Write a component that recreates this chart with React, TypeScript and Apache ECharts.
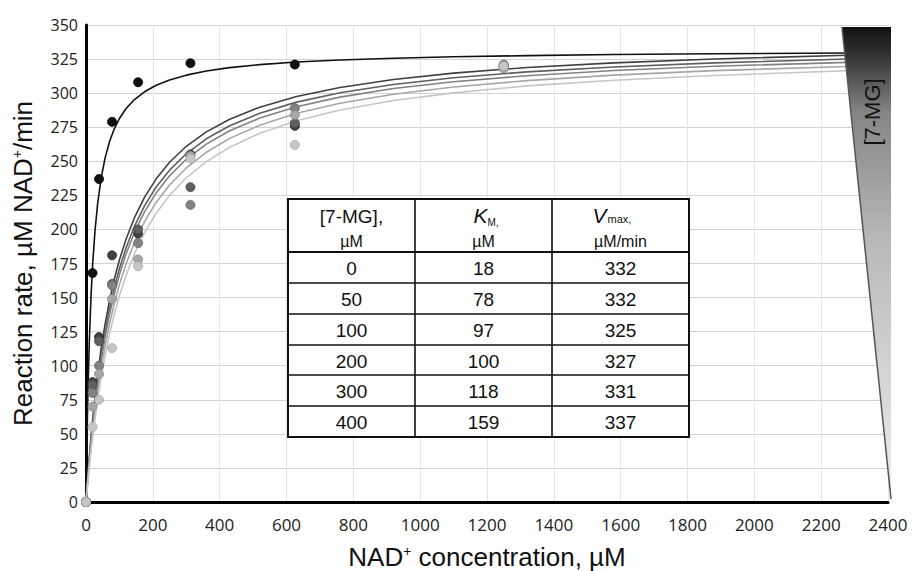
import React, { useEffect, useRef } from 'react';
import * as echarts from 'echarts';

// NAD+ concentrations of the measured points (µM)
const NAD_CONC = [0, 19.5, 39, 78, 156, 312.5, 625, 1250];
// measured reaction rates for each [7-MG]
const RATE_0 = [0, 168, 237, 279, 308, 322, 321, 320];
const RATE_50 = [0, 88, 121, 181, 197, 255, 276, 320];
const RATE_100 = [0, 86, 118, 160, 200, 231, 278, 319];
const RATE_200 = [0, 80, 100, 159, 190, 218, 289, 321];
const RATE_300 = [0, 70, 94, 149, 178, 254, 284, 318];
const RATE_400 = [0, 55, 75, 113, 173, 252, 262, 320];

// fitted curves
const CURVE_X = [0, 3, 6, 10, 15, 20, 27, 35, 45, 57, 70, 85, 100, 120, 145, 175, 210, 250, 300, 360, 430, 520, 630, 760, 920, 1100, 1320, 1580, 1880, 2280];
const CURVE_0 = [0, 47.4, 83.0, 118.6, 150.9, 174.7, 199.2, 219.2, 237.1, 252.3, 264.1, 274.0, 281.4, 288.7, 295.3, 301.0, 305.8, 309.7, 313.2, 316.2, 318.7, 320.9, 322.8, 324.3, 325.6, 326.7, 327.5, 328.3, 328.9, 329.4];
const CURVE_50 = [0, 10.8, 20.9, 33.4, 47.8, 60.9, 77.4, 94.0, 112.0, 130.4, 147.3, 163.8, 177.6, 193.0, 208.6, 223.5, 237.1, 249.3, 261.0, 271.6, 280.9, 289.7, 297.5, 304.2, 310.0, 314.7, 318.8, 322.2, 325.1, 327.8];
const CURVE_100 = [0, 10.1, 19.6, 31.4, 45.0, 57.5, 73.2, 89.2, 106.7, 124.7, 141.3, 157.5, 171.2, 186.6, 202.3, 217.3, 231.1, 243.5, 255.5, 266.5, 276.1, 285.2, 293.4, 300.3, 306.4, 311.3, 315.6, 319.2, 322.2, 325.0];
const CURVE_200 = [0, 9.6, 18.7, 30.1, 43.2, 55.2, 70.5, 86.1, 103.2, 120.8, 137.2, 153.2, 166.8, 182.2, 197.8, 212.9, 226.8, 239.3, 251.5, 262.6, 272.4, 281.7, 290.0, 297.1, 303.4, 308.4, 312.8, 316.6, 319.7, 322.6];
const CURVE_300 = [0, 8.9, 17.3, 27.9, 40.2, 51.5, 66.0, 80.9, 97.3, 114.3, 130.3, 146.0, 159.5, 174.8, 190.5, 205.7, 219.8, 232.6, 245.1, 256.6, 266.8, 276.5, 285.2, 292.6, 299.2, 304.5, 309.2, 313.2, 316.5, 319.6];
const CURVE_400 = [0, 8.1, 15.9, 25.6, 37.0, 47.6, 61.2, 75.2, 90.8, 107.2, 122.7, 138.1, 151.4, 166.5, 182.2, 197.5, 211.9, 225.0, 237.9, 249.8, 260.3, 270.6, 279.7, 287.6, 294.6, 300.2, 305.3, 309.5, 313.0, 316.4];

// inset table
const MG_CONC = ['0', '50', '100', '200', '300', '400'];
const KM = ['18', '78', '97', '100', '118', '159'];
const VMAX = ['332', '332', '325', '327', '331', '337'];

const X_TICKS = [0, 200, 400, 600, 800, 1000, 1200, 1400, 1600, 1800, 2000, 2200, 2400];

const LEVELS = [
  { rates: RATE_0, curve: CURVE_0, color: '#111111', border: '#000000' },
  { rates: RATE_50, curve: CURVE_50, color: '#404040', border: '#2a2a2a' },
  { rates: RATE_100, curve: CURVE_100, color: '#5f5f5f', border: '#484848' },
  { rates: RATE_200, curve: CURVE_200, color: '#828282', border: '#666666' },
  { rates: RATE_300, curve: CURVE_300, color: '#a6a6a6', border: '#8a8a8a' },
  { rates: RATE_400, curve: CURVE_400, color: '#c6c6c6', border: '#a8a8a8' },
];

const TITLE_FONT = 'Liberation Sans, Arial, sans-serif';
const TICK_FONT = 'Open Sans, sans-serif';

function buildTable(): any[] {
  const colX = [288, 415, 552, 689];
  const rowY = [199, 252, 283, 314, 345, 375, 406, 437];
  const els: any[] = [];
  els.push({
    type: 'rect',
    shape: { x: colX[0], y: rowY[0], width: colX[3] - colX[0], height: rowY[7] - rowY[0] },
    style: { fill: '#ffffff', stroke: '#111', lineWidth: 2 },
    z: 50,
  });
  for (let i = 1; i < 3; i++) {
    els.push({
      type: 'line',
      shape: { x1: colX[i], y1: rowY[0], x2: colX[i], y2: rowY[7] },
      style: { stroke: '#111', lineWidth: 1.6 },
      z: 51,
    });
  }
  for (let j = 1; j < 7; j++) {
    els.push({
      type: 'line',
      shape: { x1: colX[0], y1: rowY[j], x2: colX[3], y2: rowY[j] },
      style: { stroke: '#111', lineWidth: j === 1 ? 2 : 1.6 },
      z: 51,
    });
  }
  const cx = [(colX[0] + colX[1]) / 2, (colX[1] + colX[2]) / 2, (colX[2] + colX[3]) / 2];
  const txt = (x: number, y: number, text: string, size: number, extra: any = {}) => ({
    type: 'text',
    x,
    y,
    z: 52,
    style: {
      text,
      fontFamily: TITLE_FONT,
      fontSize: size,
      fill: '#111',
      align: 'center',
      verticalAlign: 'middle',
      ...extra,
    },
  });
  // header
  els.push(txt(cx[0], 216, '[7-MG],', 19));
  els.push(txt(cx[0], 241, 'µM', 16));
  els.push(txt(cx[1] - 10, 215, 'K', 21, { fontStyle: 'italic', align: 'left' }));
  els.push(txt(cx[1] + 4, 222, 'M,', 10, { align: 'left' }));
  els.push(txt(cx[1], 241, 'µM', 16));
  els.push(txt(cx[2] - 28, 215, 'V', 21, { fontStyle: 'italic', align: 'left' }));
  els.push(txt(cx[2] - 13, 219, 'max,', 11, { align: 'left' }));
  els.push(txt(cx[2], 241, 'µM/min', 16));
  for (let r = 0; r < 6; r++) {
    const y = (rowY[r + 1] + rowY[r + 2]) / 2 + 1;
    els.push(txt(cx[0], y, MG_CONC[r], 19));
    els.push(txt(cx[1], y, KM[r], 19));
    els.push(txt(cx[2], y, VMAX[r], 19));
  }
  return els;
}

function buildWedge(): any[] {
  return [
    {
      type: 'polygon',
      shape: { points: [[842, 27], [891, 27], [891, 499]] },
      style: {
        fill: new echarts.graphic.LinearGradient(0, 0, 0, 1, [
          { offset: 0, color: '#111111' },
          { offset: 0.06, color: '#333333' },
          { offset: 0.18, color: '#858585' },
          { offset: 0.45, color: '#b8b8b8' },
          { offset: 1, color: '#eeeeee' },
        ]),
        stroke: 'none',
      },
      z: 100,
    },
    {
      type: 'line',
      shape: { x1: 842, y1: 27, x2: 891, y2: 499 },
      style: { stroke: '#555', lineWidth: 1.5 },
      z: 101,
    },
    {
      type: 'text',
      x: 872,
      y: 112,
      rotation: Math.PI / 2,
      style: {
        text: '[7-MG]',
        fontFamily: TITLE_FONT,
        fontSize: 22,
        fill: '#111',
        align: 'center',
        verticalAlign: 'middle',
      },
      z: 102,
    },
  ];
}

export default function App() {
  const ref = useRef<HTMLDivElement>(null);
  useEffect(() => {
    if (!ref.current) return;
    const chart = echarts.init(ref.current, undefined, { renderer: 'svg' });
    const series: any[] = [];
    LEVELS.forEach((lv, i) => {
      series.push({
        type: 'line',
        data: CURVE_X.map((x, j) => [x, lv.curve[j]]),
        showSymbol: false,
        smooth: false,
        lineStyle: { color: lv.color, width: 1.6 },
        z: 2 + i * 0.01,
        silent: true,
      });
    });
    LEVELS.forEach((lv, i) => {
      series.push({
        type: 'scatter',
        data: NAD_CONC.map((x, j) => [x, lv.rates[j]]),
        symbolSize: 9,
        itemStyle: { color: lv.color, borderColor: lv.border, borderWidth: 0.8, opacity: 1 },
        z: 3 + i * 0.01,
        silent: true,
      });
    });
    const supX = { fontSize: 14, verticalAlign: 'top', fontFamily: TITLE_FONT, color: '#111' };
    chart.setOption({
      animation: false,
      backgroundColor: '#ffffff',
      grid: { left: 86, right: 26, top: 25, bottom: 69, containLabel: false, outerBoundsMode: 'none' },
      xAxis: {
        type: 'value',
        min: 0,
        max: 2400,
        interval: 200,
        name: 'NAD{sup|+} concentration, µM',
        nameLocation: 'middle',
        nameGap: 42,
        nameTextStyle: { fontFamily: TITLE_FONT, fontSize: 26, color: '#111', rich: { sup: supX } },
        axisLine: { show: true, onZero: false, lineStyle: { color: '#000', width: 3 } },
        axisTick: { show: false },
        axisLabel: {
          fontFamily: TICK_FONT,
          fontSize: 17,
          color: '#222',
          margin: 14,
          formatter: (v: number) => (X_TICKS.includes(v) ? String(v) : ''),
        },
        splitLine: { show: true, lineStyle: { color: '#e4e4e4', width: 1 } },
      },
      yAxis: {
        type: 'value',
        min: 0,
        max: 350,
        interval: 25,
        name: 'Reaction rate, µM NAD{sup|+}/min',
        nameLocation: 'middle',
        nameGap: 50,
        nameTextStyle: { fontFamily: TITLE_FONT, fontSize: 26, color: '#111', rich: { sup: supX } },
        axisLine: { show: true, onZero: false, lineStyle: { color: '#000', width: 3 } },
        axisTick: { show: false },
        axisLabel: { fontFamily: TICK_FONT, fontSize: 16, color: '#222', margin: 8 },
        splitLine: { show: true, lineStyle: { color: '#d2d2d2', width: 1.2 } },
      },
      graphic: [...buildTable(), ...buildWedge()],
      series,
    });
    return () => chart.dispose();
  }, []);
  return <div ref={ref} style={{ position: 'absolute', left: 0, top: 0, width: 914, height: 571 }} />;
}
